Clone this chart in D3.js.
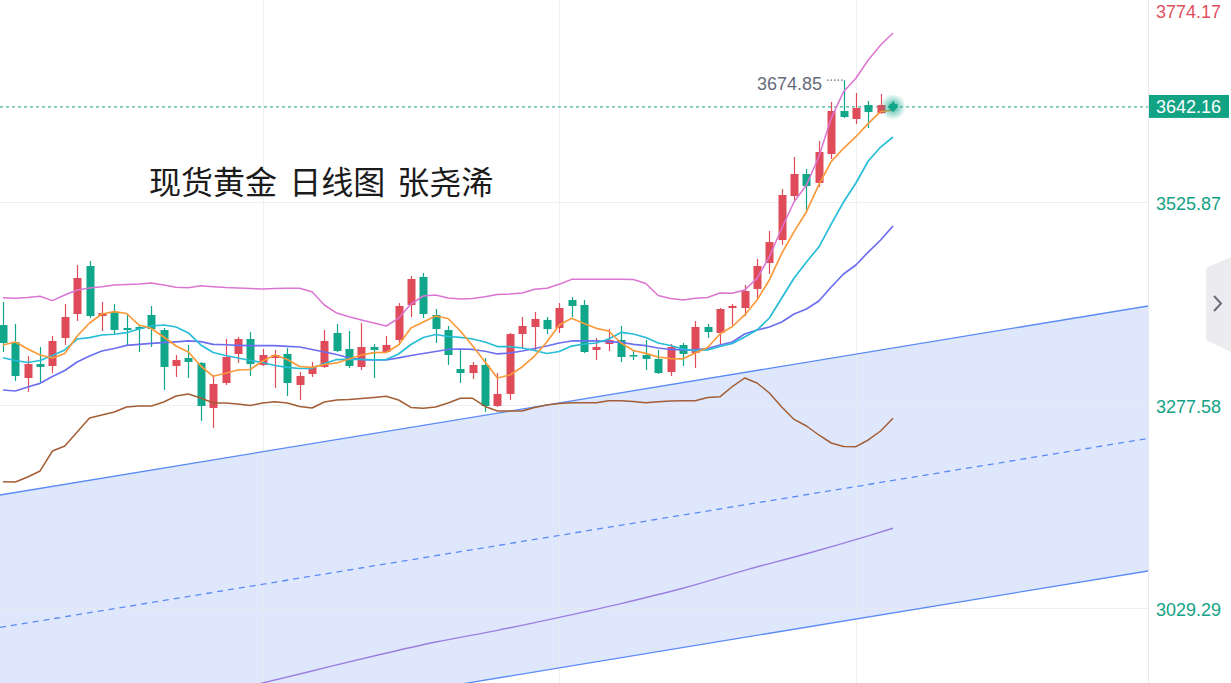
<!DOCTYPE html>
<html><head><meta charset="utf-8">
<script src="https://cdn.jsdelivr.net/npm/d3@7"></script>
<style>html,body{margin:0;padding:0;background:#fff;overflow:hidden}</style>
</head><body><svg id="chart" width="1231" height="683"></svg>
<script>
// ---------- DATA ----------
const candleOpen = [3375.4,3354.6,3310.6,3327.7,3325.3,3359.5,3388.9,3447.6,3386.4,3391.3,
3371.8,3373.0,3387.7,3369.3,3325.3,3335.1,3329.0,3273.9,3304.5,3340.0,
3358.3,3326.5,3335.1,3340.0,3302.1,3315.5,3324.1,3365.7,3346.1,3324.1,
3348.5,3342.4,3357.1,3399.9,3434.2,3387.7,3369.3,3321.6,3316.7,3326.5,
3276.4,3291.1,3364.4,3373.0,3381.6,3371.8,3406.0,3399.9,3344.9,3352.2,
3357.1,3338.7,3338.7,3333.9,3318.0,3351.0,3341.2,3373.0,3365.7,3396.2,
3396.2,3419.5,3451.3,3479.4,3533.2,3560.1,3549.1,3584.6,3637.2,3627.4,
3644.5,3634.7,3645.7];
const candleHigh = [3403.6,3376.7,3337.5,3348.5,3362.0,3401.1,3448.8,3453.7,3403.6,3401.1,
3388.9,3375.4,3398.7,3371.8,3338.7,3351.0,3330.2,3314.3,3358.3,3360.8,
3366.9,3346.1,3344.9,3347.3,3318.0,3330.2,3369.3,3376.7,3368.1,3377.9,
3352.2,3362.0,3402.3,3435.4,3439.0,3395.0,3374.2,3346.1,3330.2,3335.1,
3316.7,3365.7,3385.2,3391.3,3385.2,3402.3,3409.7,3406.0,3359.5,3370.5,
3374.2,3344.9,3357.1,3344.9,3352.2,3353.4,3380.3,3376.7,3396.2,3401.1,
3424.4,3456.2,3490.4,3541.8,3580.9,3566.2,3600.5,3648.2,3674.85,3659.2,
3649.4,3658.0,3649.4];
const candleLow = [3342.4,3307.0,3293.5,3305.7,3316.7,3351.0,3380.3,3384.0,3368.1,3364.4,
3351.0,3342.4,3348.5,3295.9,3311.8,3310.6,3258.0,3249.5,3302.1,3329.0,
3313.1,3325.3,3298.4,3288.6,3283.7,3311.8,3322.9,3342.4,3322.9,3320.4,
3310.6,3341.2,3351.0,3385.2,3384.0,3353.4,3326.5,3304.5,3309.4,3269.0,
3275.2,3283.7,3347.3,3344.9,3364.4,3365.7,3385.2,3341.2,3332.6,3343.6,
3330.2,3332.6,3320.4,3315.5,3313.1,3325.3,3322.9,3359.5,3352.2,3375.4,
3386.4,3407.2,3437.8,3473.3,3528.3,3516.1,3544.2,3578.5,3628.6,3621.3,
3616.4,3633.5,3638.4];
const candleClose = [3353.4,3313.1,3327.7,3324.1,3355.9,3385.2,3432.9,3386.4,3390.1,3369.3,
3369.3,3370.5,3370.5,3324.1,3332.6,3330.2,3276.4,3303.3,3336.3,3358.3,
3327.7,3338.7,3338.7,3304.5,3313.1,3324.1,3355.9,3343.6,3325.3,3348.5,
3344.9,3351.0,3398.7,3431.7,3388.9,3370.5,3338.7,3316.7,3326.5,3276.4,
3291.1,3364.4,3374.2,3382.8,3370.5,3396.2,3398.7,3342.4,3348.5,3357.1,
3336.3,3337.5,3333.9,3316.7,3348.5,3340.0,3373.0,3366.9,3395.0,3398.7,
3417.0,3447.6,3476.9,3534.4,3560.1,3545.4,3587.0,3637.2,3629.8,3640.8,
3636.0,3644.5,3642.16];

const ma5 = [3351.0,3354.6,3346.1,3338.7,3335.1,3340.6,3362.0,3377.9,3388.9,3391.7,
3389.5,3375.4,3371.2,3360.8,3349.7,3342.4,3325.3,3312.7,3316.4,3320.4,
3321.0,3331.4,3338.7,3333.2,3324.7,3323.7,3327.1,3329.0,3333.9,3338.7,
3341.6,3341.8,3351.0,3371.8,3379.1,3386.4,3383.4,3368.1,3349.7,3330.2,
3310.6,3314.3,3324.1,3337.5,3354.6,3375.4,3383.6,3377.3,3371.4,3368.1,
3353.4,3344.2,3340.8,3336.3,3334.4,3334.1,3341.2,3347.9,3364.4,3373.6,
3387.7,3406.0,3430.5,3463.1,3489.6,3514.0,3546.7,3575.2,3591.6,3605.7,
3622.1,3636.3,3638.4];
const ma10 = [3335.4,3332.0,3329.6,3332.0,3338.1,3344.9,3358.3,3359.9,3363.2,3364.1,
3366.0,3370.5,3374.2,3375.4,3373.0,3365.7,3351.0,3341.8,3338.1,3335.1,
3332.0,3329.6,3325.9,3323.5,3322.2,3322.5,3328.4,3333.2,3333.5,3333.5,
3332.9,3333.2,3340.0,3351.6,3360.2,3363.8,3361.4,3360.2,3358.3,3354.6,
3349.1,3348.9,3347.3,3344.2,3340.6,3343.0,3349.7,3352.2,3353.4,3358.3,
3366.3,3364.4,3360.2,3353.4,3350.4,3346.1,3344.2,3344.9,3349.1,3352.8,
3360.8,3369.3,3384.0,3408.5,3432.9,3452.5,3470.8,3498.9,3525.9,3549.1,
3576.0,3593.1,3605.4];
const ma20 = [3295.9,3294.7,3299.6,3304.1,3312.4,3319.8,3330.2,3337.5,3343.6,3346.7,
3350.6,3351.8,3353.0,3353.8,3354.9,3355.9,3355.0,3351.8,3351.3,3350.6,
3350.1,3350.1,3350.1,3349.4,3348.5,3345.5,3342.4,3339.4,3335.1,3333.2,
3332.6,3332.6,3335.3,3338.1,3340.6,3343.0,3345.5,3346.1,3345.5,3343.3,
3340.0,3341.2,3343.6,3346.7,3349.7,3353.4,3355.9,3355.9,3355.9,3355.2,
3354.3,3351.8,3350.1,3347.3,3345.5,3344.9,3344.9,3346.7,3351.0,3354.6,
3364.4,3369.3,3373.0,3379.1,3388.9,3395.0,3404.8,3421.9,3437.8,3448.8,
3464.7,3479.4,3496.5];
const bandUpper = [3408.8,3408.1,3409.1,3410.5,3405.2,3412.1,3418.2,3420.7,3422.3,3424.4,
3425.0,3425.6,3426.8,3424.4,3421.5,3421.1,3423.5,3422.3,3421.3,3420.7,
3420.1,3419.5,3420.1,3420.3,3420.3,3416.2,3399.9,3390.1,3385.6,3381.6,
3377.9,3374.2,3383.6,3401.1,3410.9,3412.1,3408.5,3407.2,3407.8,3410.0,
3412.7,3413.3,3414.6,3419.1,3420.3,3425.2,3431.3,3431.3,3431.3,3431.3,
3431.3,3431.1,3426.2,3411.5,3407.8,3406.0,3408.1,3409.1,3414.6,3414.2,
3418.2,3432.5,3459.0,3493.7,3526.2,3546.7,3581.3,3628.2,3660.8,3677.2,
3699.6,3717.9,3732.6];
const bandLower = [3183.8,3183.4,3189.5,3196.9,3221.3,3227.5,3244.6,3261.7,3265.4,3269.0,
3275.2,3276.4,3276.4,3281.3,3288.6,3291.1,3286.2,3280.1,3280.1,3278.8,
3277.0,3280.1,3281.6,3280.1,3275.8,3273.9,3281.3,3283.7,3284.3,3285.6,
3286.8,3288.3,3283.7,3274.6,3273.6,3275.2,3280.1,3285.8,3285.8,3275.8,
3270.3,3270.3,3270.3,3274.6,3277.6,3279.4,3280.4,3280.4,3280.4,3282.9,
3282.9,3281.9,3280.4,3281.5,3282.5,3282.7,3282.9,3286.8,3287.6,3300.2,
3310.6,3304.5,3292.3,3275.2,3259.9,3251.9,3240.9,3231.1,3226.9,3226.6,
3234.8,3245.8,3261.3];
const longMaIdx = [20,25,30,35,40,45,50,55,60,65,70,72];
const longMaVal = [2933.9,2952.3,2970.6,2987.7,3002.0,3017.9,3034.7,3053.4,3075.4,3095.7,3117.6,3126.8];

const channelIdx = [-0.24, 92.64];
const channelUpper = [3167.5, 3398.7];
const channelMid = [3005.5, 3236.7];
const channelLower = [2843.4, 3074.6];

const axisTicks = [3774.17, 3525.87, 3277.58, 3029.29];
const lastPrice = 3642.16;
const peakPrice = 3674.85;
const peakIdx = 68;
const gridIdx = [21, 45, 69];
const titleText = "现货黄金 日线图 张尧浠";

// ---------- DRAW ----------
const W = 1231, H = 683, plotR = 1148;
const svg = d3.select('#chart');
const x = d3.scaleLinear().domain([0, 72]).range([3, 893]);
const y = d3.scaleLinear().domain([3029.29, 3774.17]).range([608, -1]);

const RED = '#e04b5a', GREEN = '#10a68a', TEAL = '#14a286';

const defs = svg.append('defs');
defs.append('clipPath').attr('id', 'plotClip').append('rect')
  .attr('x', 0).attr('y', 0).attr('width', plotR).attr('height', H);
const rg = defs.append('radialGradient').attr('id', 'glow');
rg.append('stop').attr('offset', '0%').attr('stop-color', '#10a68a').attr('stop-opacity', 0.9);
rg.append('stop').attr('offset', '45%').attr('stop-color', '#10a68a').attr('stop-opacity', 0.45);
rg.append('stop').attr('offset', '100%').attr('stop-color', '#10a68a').attr('stop-opacity', 0);

const plot = svg.append('g').attr('clip-path', 'url(#plotClip)');

// channel fill
const chan = channelIdx.map((d, i) => ({i: d, u: channelUpper[i], m: channelMid[i], l: channelLower[i]}));
plot.append('path').datum(chan)
  .attr('d', d3.area().x(d => x(d.i)).y0(d => y(d.l)).y1(d => y(d.u)))
  .attr('fill', '#dfe7fd');

// grid
plot.append('g').selectAll('line').data(axisTicks).join('line')
  .attr('x1', 0).attr('x2', plotR).attr('y1', d => Math.round(y(d)) + 0.5).attr('y2', d => Math.round(y(d)) + 0.5)
  .attr('stroke', '#e9ebf0').attr('stroke-opacity', 0.8);
plot.append('g').selectAll('line').data(gridIdx).join('line')
  .attr('y1', 0).attr('y2', H).attr('x1', d => Math.round(x(d)) + 0.5).attr('x2', d => Math.round(x(d)) + 0.5)
  .attr('stroke', '#e9ebf0').attr('stroke-opacity', 0.8);

// channel lines
const chLine = key => d3.line().x(d => x(d.i)).y(d => y(d[key]));
plot.append('path').datum(chan).attr('d', chLine('u')).attr('fill', 'none').attr('stroke', '#5b8bf6').attr('stroke-width', 1.3);
plot.append('path').datum(chan).attr('d', chLine('l')).attr('fill', 'none').attr('stroke', '#5b8bf6').attr('stroke-width', 1.3);
plot.append('path').datum(chan).attr('d', chLine('m')).attr('fill', 'none').attr('stroke', '#5b8bf6').attr('stroke-width', 1.3).attr('stroke-dasharray', '6,5');

// long MA
plot.append('path').datum(longMaIdx.map((d, i) => [d, longMaVal[i]]))
  .attr('d', d3.line().x(d => x(d[0])).y(d => y(d[1])).curve(d3.curveMonotoneX))
  .attr('fill', 'none').attr('stroke', '#9c7fe0').attr('stroke-width', 1.4);

// last price dashed line
plot.append('line').attr('x1', 0).attr('x2', plotR).attr('y1', y(lastPrice)).attr('y2', y(lastPrice))
  .attr('stroke', TEAL).attr('stroke-width', 1).attr('stroke-dasharray', '3,3');

// candles
const idx = d3.range(candleOpen.length);
const cg = plot.append('g');
const up = i => candleClose[i] >= candleOpen[i];
cg.selectAll('line.wick').data(idx).join('line').attr('class', 'wick')
  .attr('x1', i => Math.round(x(i)) + 0.5).attr('x2', i => Math.round(x(i)) + 0.5)
  .attr('y1', i => y(candleHigh[i])).attr('y2', i => y(candleLow[i]))
  .attr('stroke', i => up(i) ? RED : GREEN).attr('stroke-width', 1.2);
cg.selectAll('rect.body').data(idx).join('rect').attr('class', 'body')
  .attr('x', i => Math.round(x(i)) + 0.5 - 4).attr('width', 8)
  .attr('y', i => y(Math.max(candleOpen[i], candleClose[i])))
  .attr('height', i => Math.max(1.5, Math.abs(y(candleOpen[i]) - y(candleClose[i]))))
  .attr('fill', i => up(i) ? RED : GREEN);

// indicator lines
const series = [
  {v: bandLower, c: '#a35e35', w: 1.5},
  {v: bandUpper, c: '#dc74d2', w: 1.5},
  {v: ma20, c: '#6c6ff0', w: 1.7},
  {v: ma10, c: '#27bcd8', w: 1.7},
  {v: ma5, c: '#fb9a3a', w: 1.7}
];
const ln = d3.line().x((d, i) => x(i)).y(d => y(d));
series.forEach(s => {
  plot.append('path').datum(s.v).attr('d', ln).attr('fill', 'none')
    .attr('stroke', s.c).attr('stroke-width', s.w).attr('stroke-linejoin', 'round');
});

// glow at last candle
const lx = x(72), ly = y(lastPrice);
plot.append('circle').attr('cx', lx).attr('cy', ly).attr('r', 13).attr('fill', 'url(#glow)');
plot.append('rect').attr('x', lx - 3.5).attr('y', ly - 3.5).attr('width', 7).attr('height', 7)
  .attr('transform', `rotate(45 ${lx} ${ly})`).attr('fill', '#10a68a');

// peak annotation
const py = y(peakPrice), px = x(peakIdx);
svg.append('line').attr('x1', 827).attr('x2', px - 1).attr('y1', py).attr('y2', py)
  .attr('stroke', '#6b7080').attr('stroke-width', 1.2).attr('stroke-dasharray', '1.5,2');
svg.append('text').attr('x', 822).attr('y', py + 10).attr('text-anchor', 'end')
  .attr('font-family', '"Liberation Sans", Arial, sans-serif').attr('font-size', 18)
  .attr('fill', '#666b7c').text(d3.format('.2f')(peakPrice));

// title
svg.append('text').attr('x', 149).attr('y', 194)
  .attr('font-family', '"Noto Sans CJK SC", sans-serif').attr('font-size', 32)
  .attr('word-spacing', 5).attr('fill', '#1b1b1b').text(titleText);

// right axis
svg.append('line').attr('x1', plotR + 0.5).attr('x2', plotR + 0.5).attr('y1', 0).attr('y2', H)
  .attr('stroke', '#e6e7ec');
const axis = d3.axisRight(y).tickValues(axisTicks).tickSize(0).tickPadding(8).tickFormat(d3.format('.2f'));
const ag = svg.append('g').attr('transform', `translate(${plotR},0)`).call(axis);
ag.select('.domain').remove();
ag.selectAll('text')
  .attr('font-family', '"Liberation Sans", Arial, sans-serif').attr('font-size', 18)
  .attr('fill', d => d === axisTicks[0] ? '#e0505e' : TEAL)
  .attr('dy', d => d === axisTicks[0] ? '1.05em' : '0.42em');

// last price label
svg.append('rect').attr('x', plotR + 1).attr('y', ly - 12).attr('width', 80).attr('height', 23).attr('fill', '#12a385');
svg.append('text').attr('x', plotR + 8).attr('y', ly + 6.5)
  .attr('font-family', '"Liberation Sans", Arial, sans-serif').attr('font-size', 18)
  .attr('fill', '#fff').text(d3.format('.2f')(lastPrice));

// side toggle tab
svg.append('path').attr('d', 'M1231,257 L1206,268 L1206,340 L1231,352 Z').attr('fill', '#ececf0');
svg.append('path').attr('d', 'M1214,296 L1221,303.5 L1214,311').attr('fill', 'none')
  .attr('stroke', '#6a6d78').attr('stroke-width', 2);
</script>
</body></html>
